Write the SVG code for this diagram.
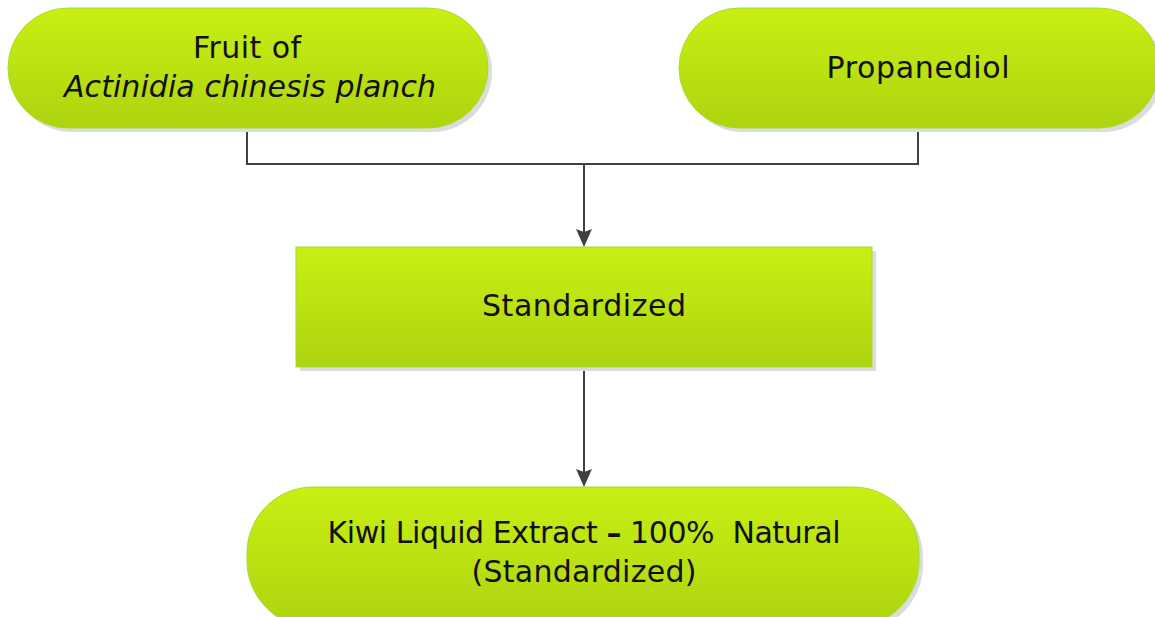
<svg xmlns="http://www.w3.org/2000/svg" width="1155" height="617" viewBox="0 0 1155 617">
<defs>
<linearGradient id="g" x1="0" y1="0" x2="0" y2="1">
<stop offset="0" stop-color="#c9ef14"/>
<stop offset="1" stop-color="#aed40f"/>
</linearGradient>
</defs>
<style>
.shape{fill:url(#g);stroke:#9ee030;stroke-width:1}
.shadow{fill:#dcdcdc}
.t{font-family:"DejaVu Sans","Liberation Sans",sans-serif;font-size:30px;fill:#111;text-anchor:middle}
.conn{fill:none;stroke:#404040;stroke-width:2}
.head{fill:#404040}
</style>
<g id="connectors">
<path class="conn" d="M247,128 V164 H918 V128"/>
<path class="conn" d="M584,164 V232"/>
<path class="head" d="M576,229 L584,232 L592,229 L584,247 Z"/>
<path class="conn" d="M584,367 V472"/>
<path class="head" d="M576,469 L584,472 L592,469 L584,487 Z"/>
</g>
<g id="node-fruit">
<rect class="shadow" x="12" y="12" width="480" height="120" rx="60"/>
<rect class="shape" x="8" y="8" width="480" height="120" rx="60"/>
<text class="t" x="247" y="58" textLength="108">Fruit of</text>
<text class="t" x="250" y="97" font-style="italic" textLength="372">Actinidia chinesis planch</text>
</g>
<g id="node-propanediol">
<rect class="shadow" x="683" y="12" width="480" height="120" rx="60"/>
<rect class="shape" x="679" y="8" width="480" height="120" rx="60"/>
<text class="t" x="918" y="78" textLength="183">Propanediol</text>
</g>
<g id="node-standardized">
<rect class="shadow" x="300" y="251" width="576" height="120"/>
<rect class="shape" x="296" y="247" width="576" height="120"/>
<text class="t" x="584" y="316" textLength="204">Standardized</text>
</g>
<g id="node-kiwi">
<rect class="shadow" x="251" y="491" width="672" height="140" rx="66"/>
<rect class="shape" x="247" y="487" width="672" height="140" rx="66"/>
<text class="t" x="584" y="543" textLength="513">Kiwi Liquid Extract <tspan font-weight="bold">–</tspan> 100%&#160; Natural</text>
<text class="t" x="584" y="582" textLength="225">(Standardized)</text>
</g>
</svg>
